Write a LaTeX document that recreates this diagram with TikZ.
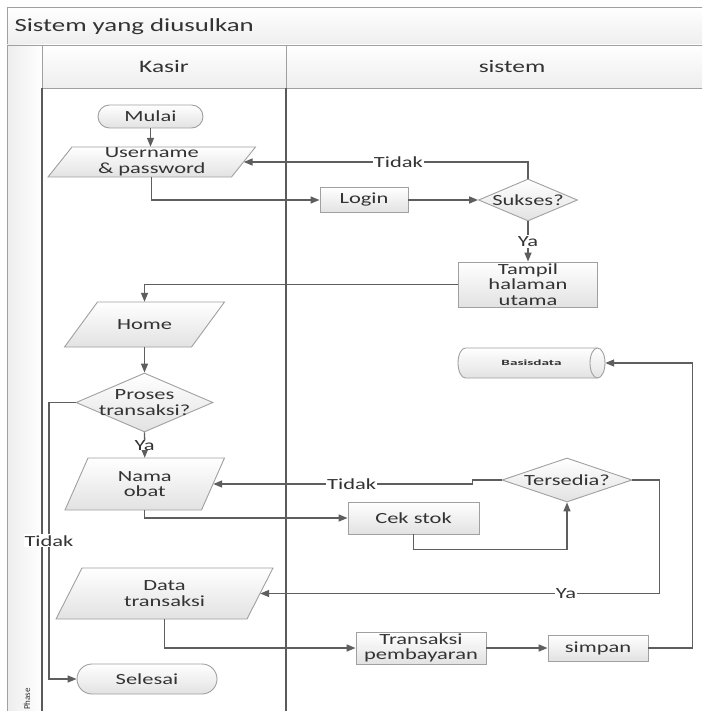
\documentclass[tikz,border=0pt]{standalone}
\usepackage{fontspec}
\setmainfont{Carlito}[FakeStretch=1.45]
\newfontfamily\dbfont{Carlito}[FakeStretch=1.9]
\newfontfamily\phasefont{Carlito}
\usetikzlibrary{shapes.geometric,arrows.meta,calc}

\definecolor{lanegray}{HTML}{5A5A5A}
\definecolor{linegray}{HTML}{5E5E5E}
\definecolor{edgegray}{HTML}{A0A0A0}
\definecolor{txtgray}{HTML}{333333}
\definecolor{fillbot}{HTML}{E2E2E2}
\definecolor{bandbot}{HTML}{EEEEEE}

\tikzset{
  bodyfont/.style={font=\fontsize{15.5}{15.5}\selectfont, text=txtgray},
  shapebase/.style={draw=edgegray, line width=0.9pt, top color=white, bottom color=fillbot, inner sep=0pt, bodyfont},
  procbox/.style={shapebase, rectangle, align=center},
  termbox/.style={shapebase, rectangle, rounded corners=#1, align=center},
  decision/.style={shapebase, diamond},
  parashape/.style={draw=edgegray, line width=0.9pt, top color=white, bottom color=fillbot},
  paratext/.style={inner sep=0pt, align=center, bodyfont},
  flow/.style={draw=linegray, line width=1.4pt, -{Triangle[length=9pt,width=7pt]}},
  lbl/.style={fill=white, inner sep=1pt, bodyfont},
  band/.style={draw=edgegray, line width=0.9pt, top color=white, bottom color=bandbot},
  laneline/.style={draw=lanegray, line width=1.6pt},
}

% parallelogram (input/output): name, cx, cy, mid width, height, slant, text
\newcommand{\ioshape}[7]{%
  \path[parashape] (#2-#4/2-#6/2, #3+#5/2) -- (#2-#4/2+#6/2, #3-#5/2)
    -- (#2+#4/2+#6/2, #3-#5/2) -- (#2+#4/2-#6/2, #3+#5/2) -- cycle;
  \node[paratext, minimum width=#4, minimum height=#5] (#1) at (#2,#3) {#7};
}

\begin{document}
\begin{tikzpicture}[x=1pt, y=-1pt]
  \useasboundingbox (0,0) rectangle (702,711);
  \clip (0,0) rectangle (702,711);
  \fill[white] (0,0) rectangle (702,711);

  % pool frame: title band, lane headers, phase column, lane separators
  \path[band] (7,7) rectangle (730,45);
  \path[band] (42,45) rectangle (730,88);
  \path[draw=edgegray, line width=0.9pt, left color=gray!14, right color=white] (7,45) rectangle (42,730);
  \draw[laneline] (42,88) -- (42,730);
  \draw[laneline] (286,88) -- (286,730);
  \draw[edgegray, line width=1pt] (286,45) -- (286,88);

  \node[anchor=west, font=\fontsize{18.5}{18.5}\selectfont, text=txtgray] (title) at (11,26.5) {Sistem yang diusulkan};
  \node[font=\fontsize{17.5}{17.5}\selectfont, text=txtgray] (hkasir) at (164,67) {Kasir};
  \node[font=\fontsize{17.5}{17.5}\selectfont, text=txtgray] (hsistem) at (512,67) {sistem};
  \node[rotate=90, font=\phasefont\fontsize{9}{9}\selectfont, text=txtgray] (phase) at (27,699) {Phase};

  % Kasir lane
  \node[termbox=11.5pt, minimum width=105, minimum height=23] (mulai) at (150.5,116.5) {Mulai};
  \ioshape{user}{151.75}{162}{183.5}{30}{24}{Username\\\& password}
  \ioshape{home}{144.5}{324.5}{127}{45}{33}{Home}
  \node[decision, minimum width=137, minimum height=59,
        label={[bodyfont, align=center]center:Proses\\transaksi?}] (proses) at (144.5,402.5) {};
  \ioshape{nama}{144.75}{484}{136.5}{52}{23}{Nama\\obat}
  \ioshape{data}{164.5}{593.5}{191}{51}{26}{Data\\transaksi}
  \node[termbox=15pt, minimum width=140, minimum height=30] (selesai) at (147,679) {Selesai};

  % sistem lane
  \node[procbox, minimum width=88, minimum height=25] (login) at (364,200) {Login};
  \node[decision, minimum width=99, minimum height=42,
        label={[bodyfont]center:Sukses?}] (sukses) at (528,200) {};
  \node[procbox, minimum width=139, minimum height=45] (tampil) at (528,284.5) {Tampil\\halaman\\utama};

  % data store drawn as a horizontal cylinder
  \path[parashape] (597.5,348) -- (465.5,348)
    arc[start angle=-90, end angle=-270, x radius=7.5, y radius=15]
    -- (597.5,378)
    arc[start angle=90, end angle=-90, x radius=7.5, y radius=15] -- cycle;
  \draw[edgegray, line width=0.9pt] (597.5,348)
    arc[start angle=-90, end angle=-270, x radius=7.5, y radius=15];
  \node[inner sep=0pt, minimum width=147, minimum height=30, text=txtgray,
        font=\dbfont\fontsize{8}{8}\selectfont\bfseries] (basis) at (531.5,363) {Basisdata};

  \node[decision, minimum width=130, minimum height=44,
        label={[bodyfont]center:Tersedia?}] (tersedia) at (567,480) {};
  \node[procbox, minimum width=131, minimum height=32] (cek) at (413.5,518) {Cek stok};
  \node[procbox, minimum width=130, minimum height=32] (trans) at (421,648) {Transaksi\\pembayaran};
  \node[procbox, minimum width=100, minimum height=26] (simpan) at (598,648) {simpan};

  % flow connectors
  \coordinate (tbend) at (49,402.5);
  \draw[flow] (mulai.south) -- (mulai.south |- user.north);
  \draw[flow] (user.south) |- (login.west);
  \draw[flow] (login.east) -- (sukses.west);
  \draw[flow] (sukses.north) |- (user.east) node[lbl, pos=0.728] {Tidak};
  \draw[flow] (sukses.south) -- (tampil.north) node[lbl, midway] {Ya};
  \draw[flow] (tampil.west) -| (home.north);
  \draw[flow] (home.south) -- (proses.north);
  \draw[flow] (proses.south) -- (nama.north) node[lbl, midway, inner sep=0pt] {Ya};
  \draw[flow] (proses.west) -- (tbend) |- (selesai.west) node[lbl, pos=0.25] {Tidak};
  \draw[flow] (nama.south) |- (cek.west);
  \draw[flow] (cek.south) -- ++(0,15) -| (tersedia.south);
  \draw[flow] (tersedia.west) -- ++(-29,0) |- (nama.east) node[lbl, pos=0.733] {Tidak};
  \draw[flow] (tersedia.east) -- ++(27,0) |- (data.east) node[lbl, pos=0.617] {Ya};
  \draw[flow] (data.south) |- (trans.west);
  \draw[flow] (trans.east) -- (simpan.west);
  \draw[flow] (simpan.east) -- ++(44,0) |- (basis.east);
\end{tikzpicture}
\end{document}
